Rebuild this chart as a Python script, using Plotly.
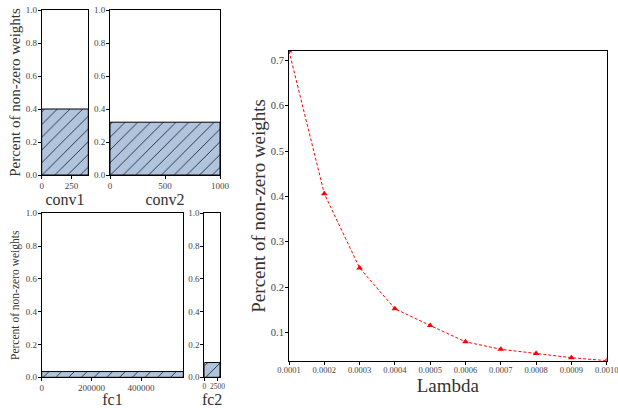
import plotly.graph_objects as go

# ---- data ----
layer_names = ["conv1", "conv2", "fc1", "fc2"]
layer_sizes = [390, 1000, 570000, 3000]
layer_nonzero = [0.40, 0.32, 0.035, 0.09]
layer_xticks = [[0, 250], [0, 500, 1000], [0, 200000, 400000], [0, 2500]]

lambdas = [0.0001, 0.0002, 0.0003, 0.0004, 0.0005, 0.0006, 0.0007, 0.0008, 0.0009, 0.0010]
pct_nonzero = [0.721, 0.406, 0.242, 0.152, 0.115, 0.079, 0.0625, 0.053, 0.044, 0.0373]

W, H = 618, 408
FONT = "Liberation Serif"
TXT = "#333333"
TICK = "#444444"

# pixel boxes (left, right, top, bottom)
boxes = [
    (41.7, 88.3, 10, 175),
    (110, 220, 10, 175),
    (41.7, 183.3, 213.3, 377.3),
    (204.3, 220, 213.3, 377.3),
]
main_box = (289, 606.7, 51, 360.7)


def dom(b):
    l, r, t, bt = b
    return [l / W, r / W], [1 - bt / H, 1 - t / H]


fig = go.Figure()
layout = dict(
    width=W, height=H, margin=dict(l=0, r=0, t=0, b=0, autoexpand=False),
    paper_bgcolor="white", plot_bgcolor="white", showlegend=False,
    font=dict(family=FONT, color=TXT),
)

axis_common = dict(showline=True, mirror=True, linecolor="black", linewidth=1,
                   showgrid=False, zeroline=False, ticks="outside", ticklen=3,
                   tickcolor="black", automargin=False, tickangle=0,
                   ticklabeloverflow="allow", ticklabelstandoff=-1,
                   tickfont=dict(family=FONT, size=9, color=TICK))

for i, (name, n, v, xt) in enumerate(zip(layer_names, layer_sizes, layer_nonzero, layer_xticks)):
    k = "" if i == 0 else str(i + 1)
    xd, yd = dom(boxes[i])
    fig.add_trace(go.Bar(
        x=[n / 2], y=[v], width=[n], xaxis="x" + k, yaxis="y" + k,
        marker=dict(color="#b0c4de", line=dict(color="black", width=1),
                    pattern=dict(shape="/", fgcolor="black", bgcolor="#b0c4de",
                                 fillmode="replace", size=9, solidity=0.08)),
        hoverinfo="skip",
    ))
    xa = dict(axis_common, domain=xd, anchor="y" + k, range=[0, n], tickvals=xt,
              ticktext=[str(t) for t in xt],
              title=dict(text=name, font=dict(family=FONT, size=16, color=TXT), standoff=0))
    if i == 3:
        xa["tickfont"] = dict(family=FONT, size=7.5, color=TICK)
    ya = dict(axis_common, domain=yd, anchor="x" + k, range=[0, 1],
              tickvals=[0, 0.2, 0.4, 0.6, 0.8, 1.0], tickformat=".1f")
    if i == 0:
        ya["title"] = dict(text="Percent of non-zero weights",
                           font=dict(family=FONT, size=15, color=TXT), standoff=1)
    if i == 2:
        ya["title"] = dict(text="Percent of non-zero weights",
                           font=dict(family=FONT, size=11.5, color=TXT), standoff=3)
    layout["xaxis" + k] = xa
    layout["yaxis" + k] = ya

# main line chart
xd, yd = dom(main_box)
fig.add_trace(go.Scatter(
    x=lambdas, y=pct_nonzero, xaxis="x5", yaxis="y5", mode="lines+markers",
    line=dict(color="red", width=1, dash="3px,2px"),
    marker=dict(symbol="triangle-up", size=6, color="red"),
    hoverinfo="skip",
))
layout["xaxis5"] = dict(axis_common, domain=xd, anchor="y5",
                        range=[min(lambdas), max(lambdas)], tickvals=lambdas,
                        tickformat=".4f", tickfont=dict(family=FONT, size=8.5, color=TICK),
                        ticklabelstandoff=-2,
                        title=dict(text="Lambda", font=dict(family=FONT, size=19, color=TXT), standoff=0))
layout["yaxis5"] = dict(axis_common, domain=yd, anchor="x5",
                        range=[min(pct_nonzero), max(pct_nonzero)],
                        tickvals=[0.1, 0.2, 0.3, 0.4, 0.5, 0.6, 0.7], tickformat=".1f",
                        tickfont=dict(family=FONT, size=10.5, color=TICK),
                        title=dict(text="Percent of non-zero weights",
                                   font=dict(family=FONT, size=19, color=TXT), standoff=0))

fig.update_layout(**layout)
fig.write_html("out.html", config={"displayModeBar": False},
               post_script="document.body.style.margin='0';document.body.style.overflow='hidden';")
